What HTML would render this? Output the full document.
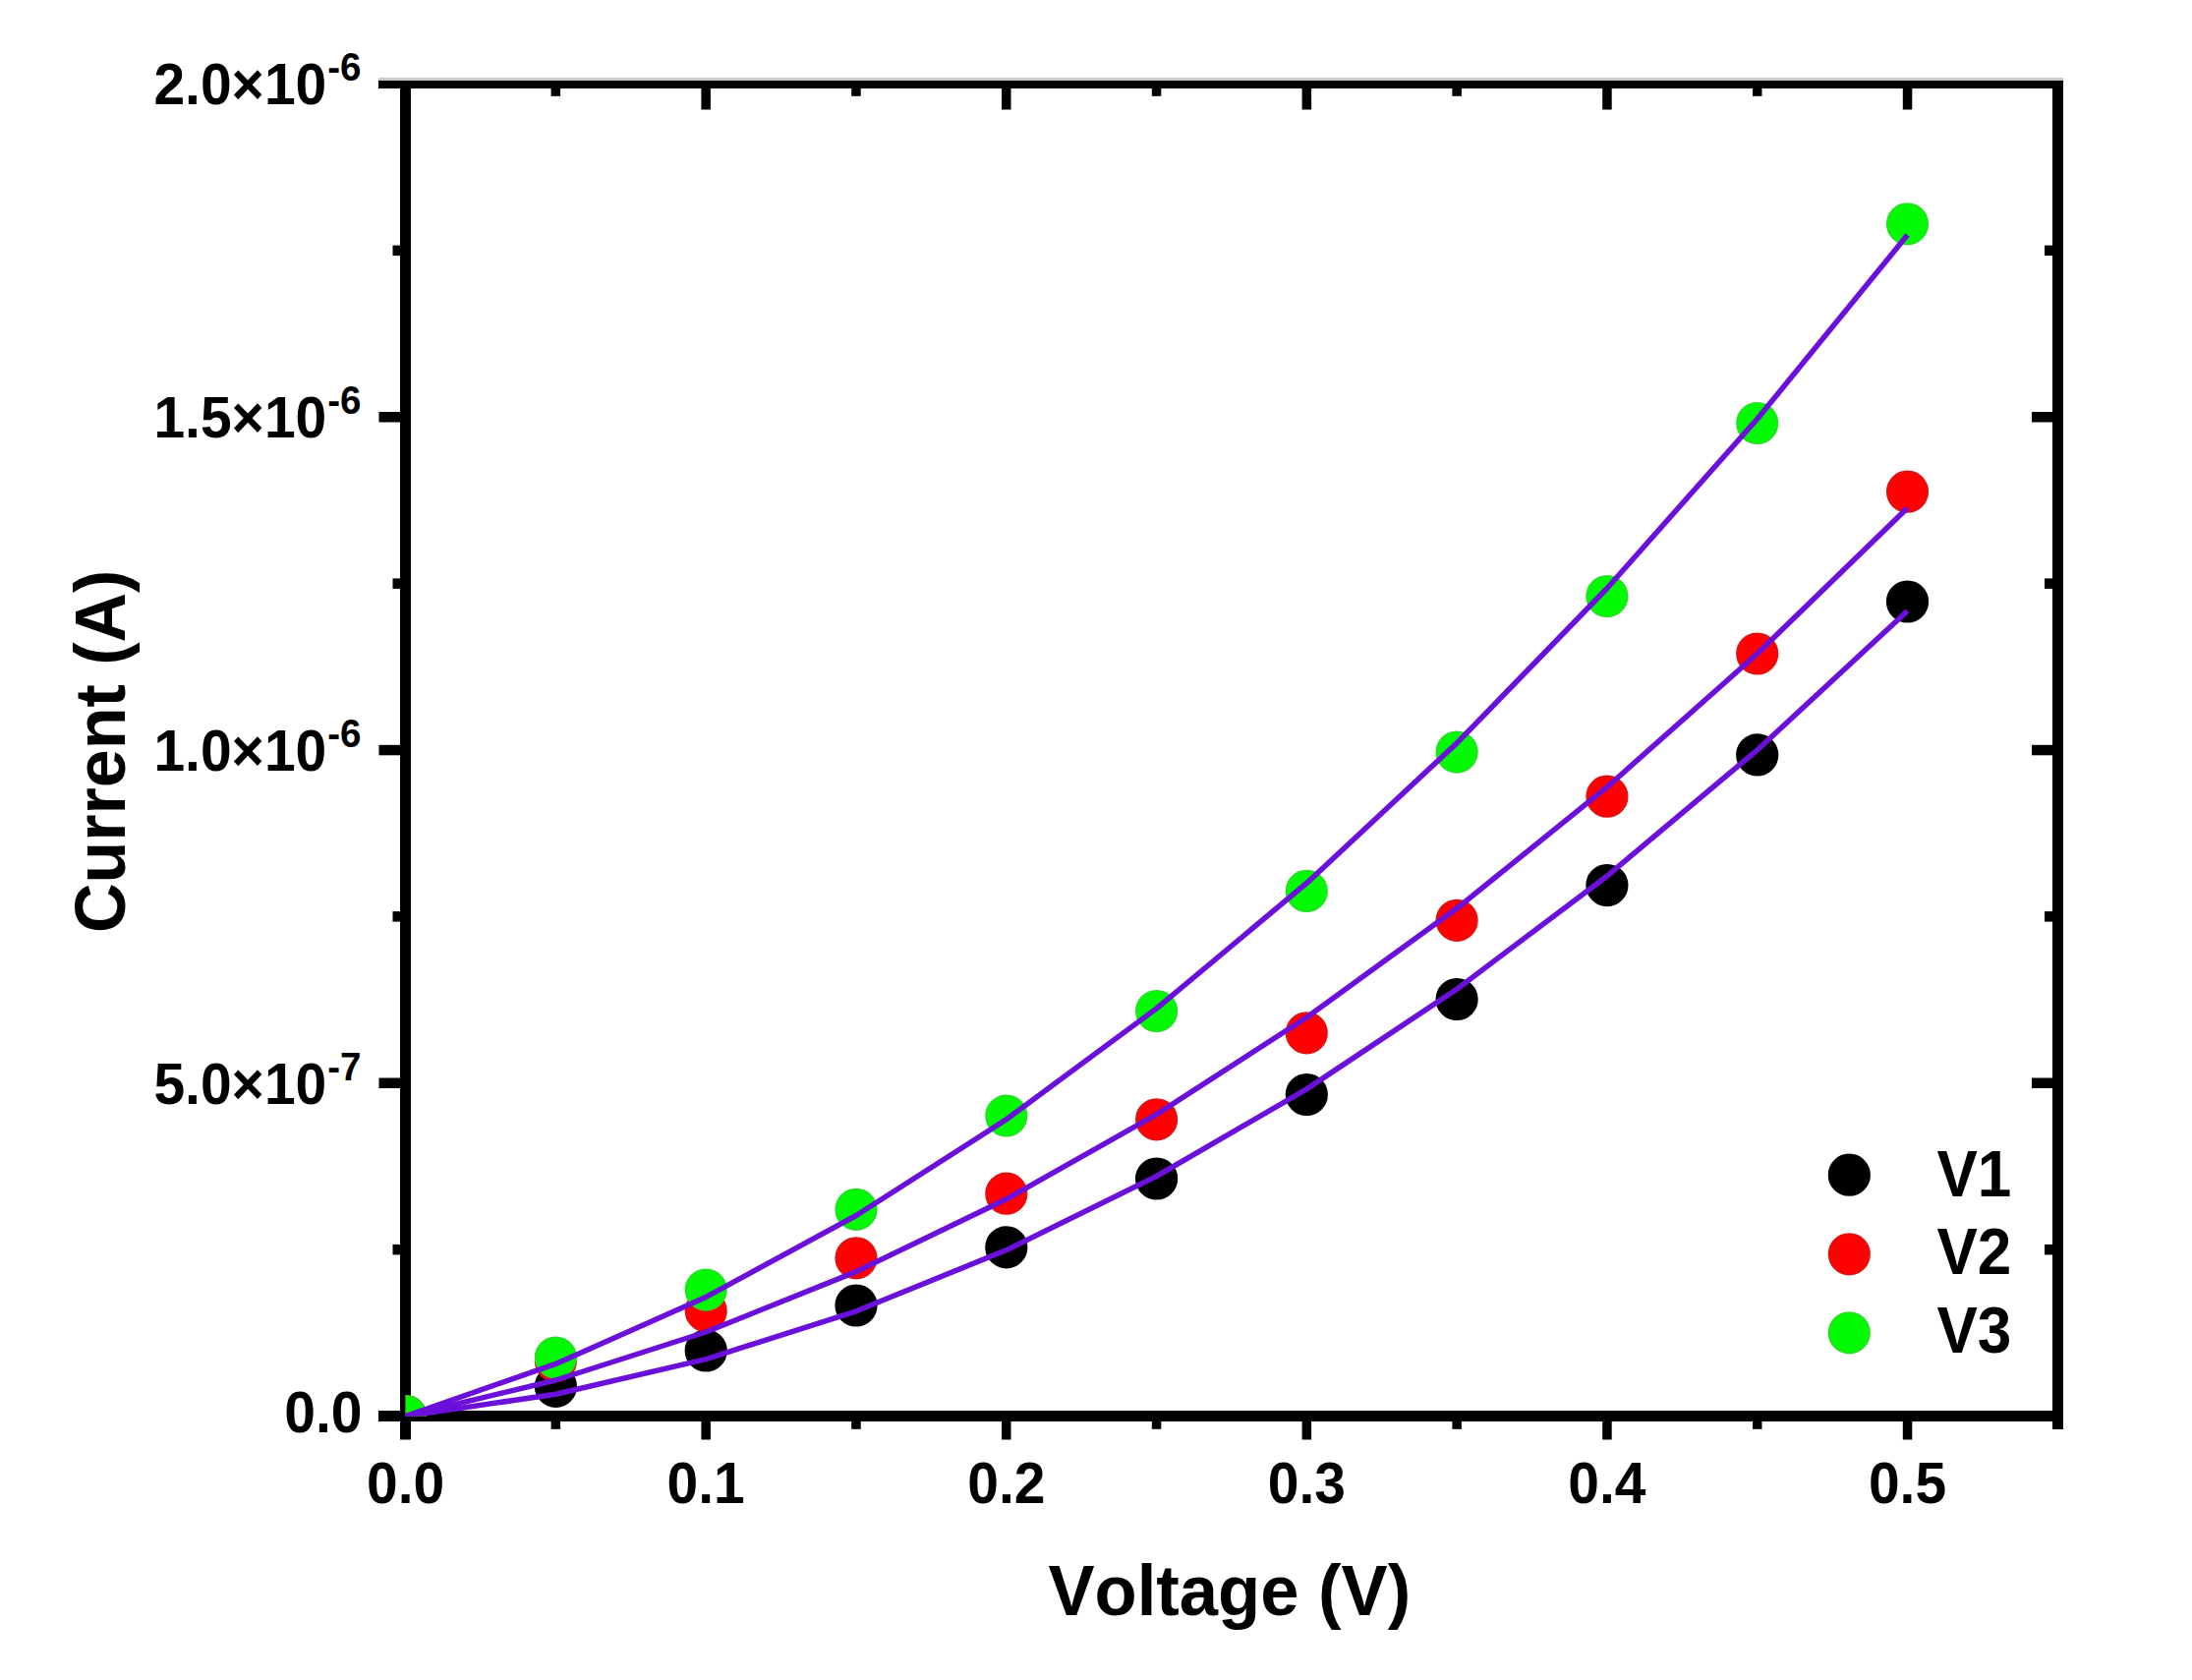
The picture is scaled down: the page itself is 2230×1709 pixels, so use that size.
<!DOCTYPE html>
<html lang="en"><head><meta charset="utf-8"><title>Current vs Voltage</title>
<style>html,body{margin:0;padding:0;background:#fff;overflow:hidden}svg{display:block}text{font-family:"Liberation Sans",sans-serif;font-weight:bold;fill:#000;font-kerning:none}.t{font-size:57px}.s{font-size:38.5px}.l{font-size:62px}.a{font-size:70px}.a2{font-size:70.6px}</style></head><body>
<svg width="2230" height="1709" viewBox="0 0 2230 1709">
<rect width="2230" height="1709" fill="#fff"/>
<defs><clipPath id="plot"><rect x="412.5" y="85" width="1681" height="1355.5"/></clipPath></defs>
<g fill="#000">
<rect x="385" y="79" width="1714" height="3" fill="#c9c9c9"/>
<rect x="385" y="82" width="1714" height="8"/>
<rect x="385" y="1435" width="1714" height="11"/>
<rect x="407" y="82" width="11" height="1382.5"/>
<rect x="2088" y="82" width="11" height="1372"/>
<rect x="560.6" y="1446" width="9.5" height="7.8"/>
<rect x="560.6" y="90" width="9.5" height="7.8"/>
<rect x="713.4" y="1446" width="9.5" height="18.5"/>
<rect x="713.4" y="90" width="9.5" height="21.5"/>
<rect x="866.2" y="1446" width="9.5" height="7.8"/>
<rect x="866.2" y="90" width="9.5" height="7.8"/>
<rect x="1019.0" y="1446" width="9.5" height="18.5"/>
<rect x="1019.0" y="90" width="9.5" height="21.5"/>
<rect x="1171.8" y="1446" width="9.5" height="7.8"/>
<rect x="1171.8" y="90" width="9.5" height="7.8"/>
<rect x="1324.6" y="1446" width="9.5" height="18.5"/>
<rect x="1324.6" y="90" width="9.5" height="21.5"/>
<rect x="1477.4" y="1446" width="9.5" height="7.8"/>
<rect x="1477.4" y="90" width="9.5" height="7.8"/>
<rect x="1630.2" y="1446" width="9.5" height="18.5"/>
<rect x="1630.2" y="90" width="9.5" height="21.5"/>
<rect x="1783.0" y="1446" width="9.5" height="7.8"/>
<rect x="1783.0" y="90" width="9.5" height="7.8"/>
<rect x="1935.8" y="1446" width="9.5" height="18.5"/>
<rect x="1935.8" y="90" width="9.5" height="21.5"/>
<rect x="399.5" y="1265.9" width="8" height="10.5"/>
<rect x="2080" y="1265.9" width="9" height="10.5"/>
<rect x="385.5" y="1096.5" width="22" height="10.5"/>
<rect x="2067" y="1096.5" width="22" height="10.5"/>
<rect x="399.5" y="927.1" width="8" height="10.5"/>
<rect x="2080" y="927.1" width="9" height="10.5"/>
<rect x="385.5" y="757.8" width="22" height="10.5"/>
<rect x="2067" y="757.8" width="22" height="10.5"/>
<rect x="399.5" y="588.4" width="8" height="10.5"/>
<rect x="2080" y="588.4" width="9" height="10.5"/>
<rect x="385.5" y="419.0" width="22" height="10.5"/>
<rect x="2067" y="419.0" width="22" height="10.5"/>
<rect x="399.5" y="249.6" width="8" height="10.5"/>
<rect x="2080" y="249.6" width="9" height="10.5"/>
</g>
<g clip-path="url(#plot)">
<g fill="#000" stroke="#000" stroke-width="1.6">
<circle cx="412.6" cy="1440.5" r="20.8"/>
<circle cx="565.4" cy="1410.3" r="20.8"/>
<circle cx="718.2" cy="1374.0" r="20.8"/>
<circle cx="871.0" cy="1328.0" r="20.8"/>
<circle cx="1023.8" cy="1268.8" r="20.8"/>
<circle cx="1176.6" cy="1199.0" r="20.8"/>
<circle cx="1329.3" cy="1113.5" r="20.8"/>
<circle cx="1482.1" cy="1016.5" r="20.8"/>
<circle cx="1634.9" cy="900.6" r="20.8"/>
<circle cx="1787.7" cy="767.9" r="20.8"/>
<circle cx="1940.5" cy="612.0" r="20.8"/>
</g>
<g fill="#fe0202" stroke="#dc1414" stroke-width="1.6">
<circle cx="412.6" cy="1440.5" r="20.8"/>
<circle cx="565.4" cy="1384.5" r="20.8"/>
<circle cx="718.2" cy="1333.5" r="20.8"/>
<circle cx="871.0" cy="1279.8" r="20.8"/>
<circle cx="1023.8" cy="1214.2" r="20.8"/>
<circle cx="1176.6" cy="1138.8" r="20.8"/>
<circle cx="1329.3" cy="1050.8" r="20.8"/>
<circle cx="1482.1" cy="936.3" r="20.8"/>
<circle cx="1634.9" cy="810.2" r="20.8"/>
<circle cx="1787.7" cy="665.0" r="20.8"/>
<circle cx="1940.5" cy="500.2" r="20.8"/>
</g>
<g fill="#02fb02" stroke="#2adc2a" stroke-width="1.6">
<circle cx="412.6" cy="1440.5" r="20.8"/>
<circle cx="565.4" cy="1381.1" r="20.8"/>
<circle cx="718.2" cy="1312.1" r="20.8"/>
<circle cx="871.0" cy="1230.3" r="20.8"/>
<circle cx="1023.8" cy="1135.0" r="20.8"/>
<circle cx="1176.6" cy="1028.6" r="20.8"/>
<circle cx="1329.3" cy="906.4" r="20.8"/>
<circle cx="1482.1" cy="765.1" r="20.8"/>
<circle cx="1634.9" cy="606.5" r="20.8"/>
<circle cx="1787.7" cy="430.5" r="20.8"/>
<circle cx="1940.5" cy="227.8" r="20.8"/>
</g>
<g fill="none" stroke="#6a10da" stroke-width="5.5" stroke-linecap="butt" stroke-linejoin="round">
<polyline points="412.6,1440.6 565.4,1418.2 718.2,1382.6 871.0,1333.8 1023.8,1271.7 1176.6,1196.5 1329.3,1107.9 1482.1,1006.2 1634.9,891.2 1787.7,763.0 1940.5,621.6"/>
<polyline points="412.6,1440.6 565.4,1404.0 718.2,1355.0 871.0,1293.6 1023.8,1219.8 1176.6,1133.6 1329.3,1035.0 1482.1,924.1 1634.9,800.7 1787.7,665.0 1940.5,516.8"/>
<polyline points="412.6,1440.6 565.4,1387.4 718.2,1319.4 871.0,1236.5 1023.8,1138.7 1176.6,1025.9 1329.3,898.4 1482.1,755.9 1634.9,598.5 1787.7,426.2 1940.5,239.1"/>
</g></g>
<text class="t" transform="translate(412.6,1529.0) scale(1,1.045)" text-anchor="middle">0.0</text>
<text class="t" transform="translate(718.2,1529.0) scale(1,1.045)" text-anchor="middle">0.1</text>
<text class="t" transform="translate(1023.8,1529.0) scale(1,1.045)" text-anchor="middle">0.2</text>
<text class="t" transform="translate(1329.3,1529.0) scale(1,1.045)" text-anchor="middle">0.3</text>
<text class="t" transform="translate(1634.9,1529.0) scale(1,1.045)" text-anchor="middle">0.4</text>
<text class="t" transform="translate(1940.5,1529.0) scale(1,1.045)" text-anchor="middle">0.5</text>
<text class="t" transform="translate(367.5,106.4) scale(1,1.045)" text-anchor="end">2.0×10<tspan class="s" dx="1" dy="-23">-6</tspan></text>
<text class="t" transform="translate(367.5,445.1) scale(1,1.045)" text-anchor="end">1.5×10<tspan class="s" dx="1" dy="-23">-6</tspan></text>
<text class="t" transform="translate(367.5,783.9) scale(1,1.045)" text-anchor="end">1.0×10<tspan class="s" dx="1" dy="-23">-6</tspan></text>
<text class="t" transform="translate(367.5,1122.7) scale(1,1.045)" text-anchor="end">5.0×10<tspan class="s" dx="1" dy="-23">-7</tspan></text>
<text class="t" transform="translate(368.5,1456.8) scale(1,1.03)" text-anchor="end">0.0</text>
<text class="a2" transform="translate(1250.8,1642.6) scale(1,1.02)" text-anchor="middle">Voltage (V)</text>
<text class="a" transform="translate(126.8,764.3) rotate(-90) scale(1,1.045)" text-anchor="middle">Current (A)</text>
<circle cx="1881.3" cy="1195.2" r="20.8" fill="#000" stroke="#000" stroke-width="1.6"/>
<text class="l" transform="translate(1970.5,1216.6) scale(1,1.07)" text-anchor="start">V1</text>
<circle cx="1881.3" cy="1275.8" r="20.8" fill="#fe0202" stroke="#dc1414" stroke-width="1.6"/>
<text class="l" transform="translate(1970.5,1296.4) scale(1,1.07)" text-anchor="start">V2</text>
<circle cx="1881.3" cy="1355.8" r="20.8" fill="#02fb02" stroke="#2adc2a" stroke-width="1.6"/>
<text class="l" transform="translate(1970.5,1376.4) scale(1,1.07)" text-anchor="start">V3</text>
</svg></body></html>
